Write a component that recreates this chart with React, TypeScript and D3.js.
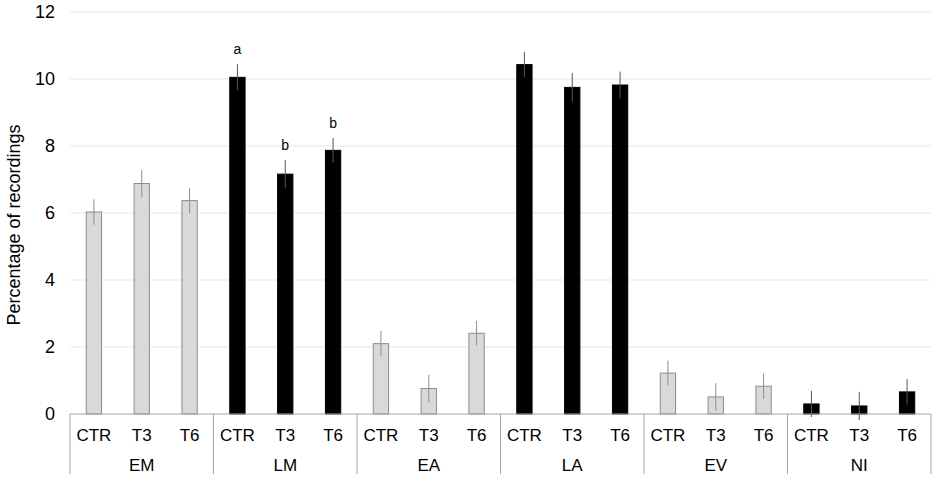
import * as d3 from "d3";

// groups along the bottom, three treatments in each
const groups = ["EM", "LM", "EA", "LA", "EV", "NI"];
const treatments = ["CTR", "T3", "T6"];
// dark bars for these groups, light gray for the rest
const darkGroups = ["LM", "LA", "NI"];

const means: number[][] = [
  [6.03, 6.88, 6.37],
  [10.05, 7.16, 7.87],
  [2.1, 0.76, 2.41],
  [10.43, 9.75, 9.82],
  [1.22, 0.51, 0.83],
  [0.3, 0.24, 0.66],
];
const errors: number[][] = [
  [0.38, 0.4, 0.37],
  [0.39, 0.42, 0.37],
  [0.38, 0.41, 0.37],
  [0.38, 0.43, 0.4],
  [0.37, 0.41, 0.38],
  [0.39, 0.42, 0.38],
];
// significance letters (only LM has them)
const letters: string[][] = [
  ["", "", ""],
  ["a", "b", "b"],
  ["", "", ""],
  ["", "", ""],
  ["", "", ""],
  ["", "", ""],
];
const yTicks = [0, 2, 4, 6, 8, 10, 12];

const W = 935;
const H = 479;
const m = { left: 70, right: 4, top: 12, bottom: 65 };
const font = "'Liberation Sans', Arial, sans-serif";

export default function App() {
  const y = d3.scaleLinear().domain([0, 12]).range([H - m.bottom, m.top]);
  const xg = d3.scaleBand().domain(groups).range([m.left, W - m.right]).padding(0);
  const xc = d3.scaleBand().domain(treatments).range([0, xg.bandwidth()]).padding(0);
  const barW = xc.bandwidth() * 0.32;
  const y0 = y(0);

  return (
    <svg width={W} height={H} style={{ position: "absolute", left: 0, top: 0, background: "#fff" }} fontFamily={font}>
      {/* gridlines */}
      {yTicks.slice(1).map((t) => (
        <line key={t} x1={m.left} x2={W - m.right} y1={y(t)} y2={y(t)} stroke="#e8e8e8" strokeWidth={1.2} />
      ))}
      {/* y tick labels */}
      {yTicks.map((t) => (
        <text key={t} x={55} y={y(t)} dy="0.35em" textAnchor="end" fontSize={18} fill="#000">
          {t}
        </text>
      ))}
      <text
        transform={`translate(20,${(y(0) + y(12)) / 2 + 12}) rotate(-90)`}
        textAnchor="middle"
        fontSize={18}
        fill="#000"
      >
        Percentage of recordings
      </text>

      {groups.map((g, gi) => {
        const dark = darkGroups.includes(g);
        return (
          <g key={g} transform={`translate(${xg(g)},0)`}>
            {treatments.map((c, ci) => {
              const v = means[gi][ci];
              const e = errors[gi][ci];
              const cx = (xc(c) as number) + xc.bandwidth() / 2;
              return (
                <g key={c}>
                  <rect
                    x={cx - barW / 2}
                    y={y(v)}
                    width={barW}
                    height={y0 - y(v)}
                    fill={dark ? "#000" : "#d9d9d9"}
                    stroke={dark ? "#000" : "#8c8c8c"}
                    strokeWidth={1}
                  />
                  <line
                    x1={cx}
                    x2={cx}
                    y1={y(v + e)}
                    y2={y(v - e)}
                    stroke={dark ? "#555" : "#8f8f8f"}
                    strokeWidth={1}
                  />
                  {letters[gi][ci] && (
                    <text x={cx} y={y(v + e) - 10} textAnchor="middle" fontSize={14} fill="#000">
                      {letters[gi][ci]}
                    </text>
                  )}
                  <text x={cx} y={441} textAnchor="middle" fontSize={17} fill="#000">
                    {c}
                  </text>
                </g>
              );
            })}
            <text x={xg.bandwidth() / 2} y={471} textAnchor="middle" fontSize={17} fill="#000">
              {g}
            </text>
          </g>
        );
      })}

      {/* category axis with group separators */}
      <line x1={m.left} x2={W - m.right} y1={y0} y2={y0} stroke="#a6a6a6" strokeWidth={1} />
      {[...groups.map((g) => xg(g) as number), W - m.right].map((x, i) => (
        <line key={i} x1={x} x2={x} y1={y0} y2={474} stroke="#a6a6a6" strokeWidth={1} />
      ))}
    </svg>
  );
}
